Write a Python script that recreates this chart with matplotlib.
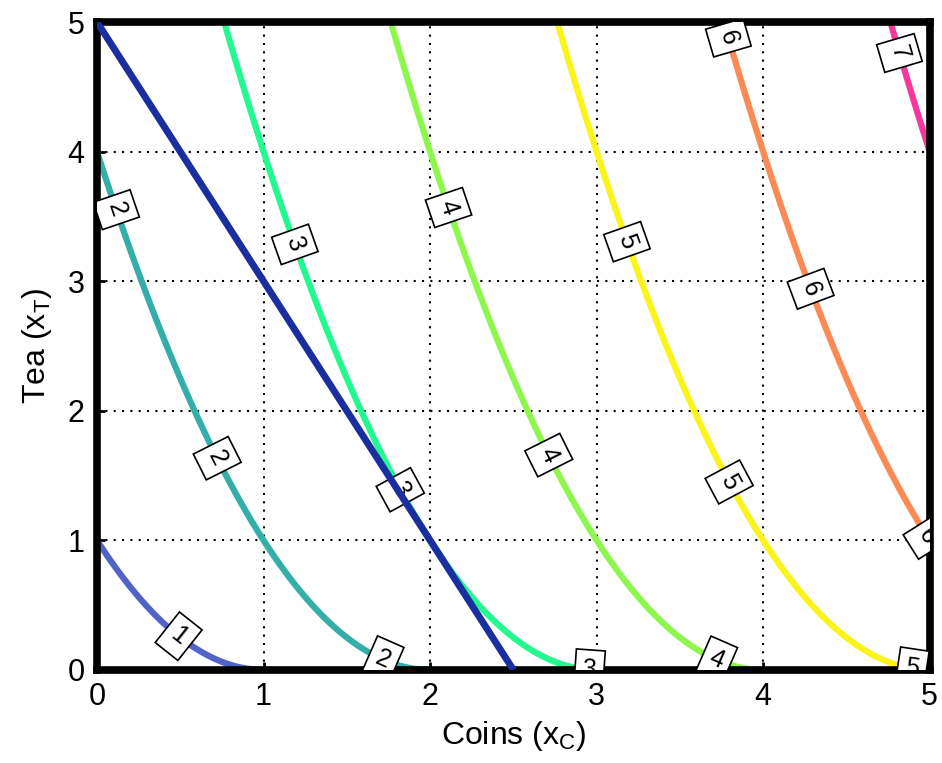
import numpy as np
import matplotlib
matplotlib.use("Agg")
import matplotlib.pyplot as plt

plt.rcParams['font.family'] = ['Liberation Sans', 'DejaVu Sans']
plt.rcParams['mathtext.fontset'] = 'custom'
plt.rcParams['mathtext.rm'] = 'Liberation Sans'

# utility levels and their colours
levels = [1, 2, 3, 4, 5, 6, 7]
level_colors = ['#5263c8', '#33aea8', '#22f98e', '#8ef74e', '#fbf41a', '#fb8a55', '#f4389c']
# budget line endpoints (coins, tea)
budget_x = [0, 2.5]
budget_y = [5, 0]
# label positions (coins, tea)
label_pos = [(0.49, 0.26),
             (0.11, 3.55), (0.70, 1.62), (1.72, 0.09),
             (1.20, 3.29), (1.82, 1.39), (2.96, 0.06),
             (2.09, 3.56), (2.70, 1.65), (3.72, 0.08),
             (3.17, 3.30), (3.78, 1.44), (4.90, 0.06),
             (3.79, 4.88), (4.26, 2.93), (4.95, 1.00),
             (4.84, 4.77)]
ticks = [0, 1, 2, 3, 4, 5]

xc = np.linspace(0, 5, 600)
xt = np.linspace(0, 5, 600)
XC, XT = np.meshgrid(xc, xt)
U = XC + np.sqrt(XT)

fig = plt.figure(figsize=(9.42, 7.63), dpi=100)
ax = fig.add_axes([0.103, 0.122, 0.884, 0.849])

cs = ax.contour(XC, XT, U, levels=levels, colors=level_colors, linewidths=4.5, zorder=2)
txts = ax.clabel(cs, levels, manual=label_pos, inline=False, fmt='%d', fontsize=18)
for t in txts:
    t.set_color('black')
    t.set_bbox(dict(boxstyle='square,pad=0.3', facecolor='white', edgecolor='black', linewidth=1.2))
    t.set_zorder(3)
    t.set_clip_on(True)

ax.plot(budget_x, budget_y, color='#1a2f9f', linewidth=5, solid_capstyle='butt', zorder=4)

ax.set_xlim(0, 5)
ax.set_ylim(0, 5)
ax.set_xticks(ticks)
ax.set_yticks(ticks)
ax.set_xticklabels([str(t) for t in ticks])
ax.set_yticklabels([str(t) for t in ticks])
ax.grid(True, color='black', linestyle=(0, (1, 3)), linewidth=1.5, zorder=1)
ax.set_axisbelow(True)
ax.tick_params(direction='in', length=6, width=2, labelsize=22, pad=9)
for s in ax.spines.values():
    s.set_linewidth(5.5)
ax.set_xlabel(r'Coins (x$_\mathregular{C}$)', fontsize=23, labelpad=5)
ax.set_ylabel(r'Tea (x$_\mathregular{T}$)', fontsize=23, labelpad=10)

fig.savefig('out.png', dpi=100)
